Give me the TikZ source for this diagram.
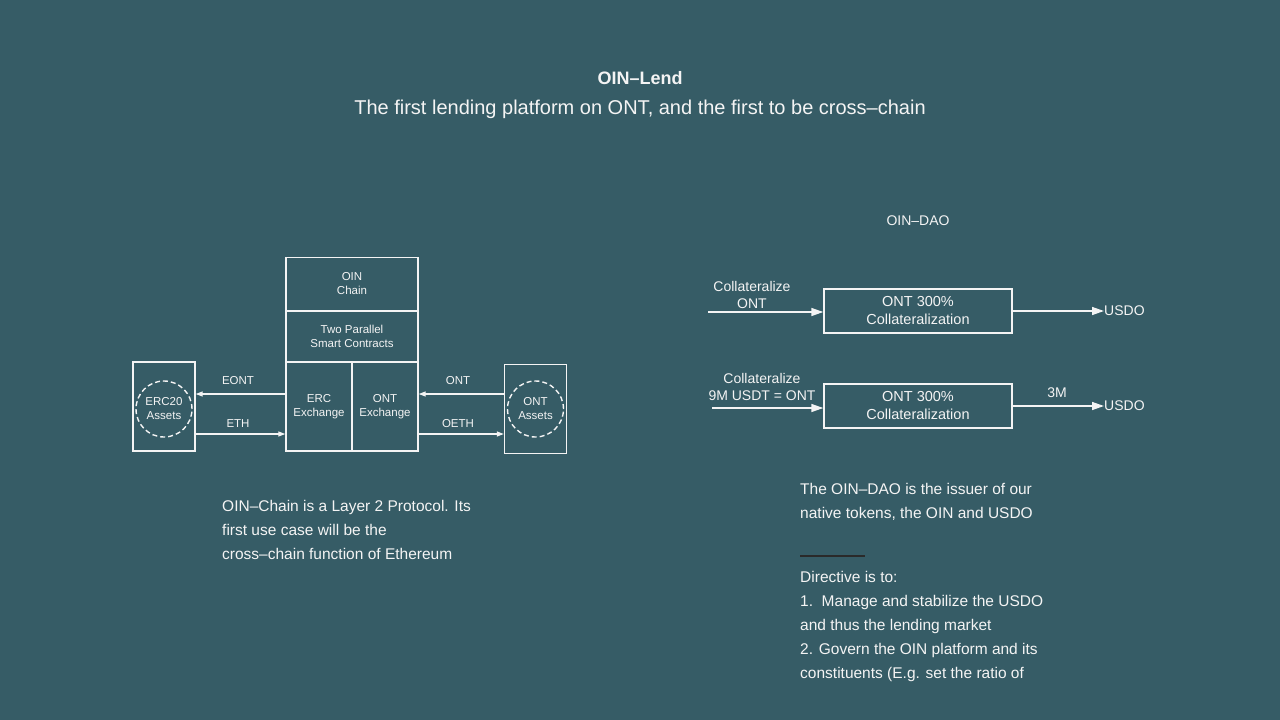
\documentclass[tikz,border=0pt]{standalone}
\usepackage{fontspec}
\setmainfont{Liberation Sans}
\usetikzlibrary{arrows.meta}
\definecolor{oinbg}{HTML}{365C66}
\definecolor{oinfg}{HTML}{F4F4F4}
\definecolor{oinrule}{HTML}{2A2A2A}
\newcommand{\fsz}[2]{\fontsize{#1}{#2}\selectfont}
\tikzset{
  cell/.style={draw, line width=1.4pt, inner sep=0pt, align=center, font=\fsz{11.5}{14}},
  ring/.style={circle, draw, line width=1.4pt, dash pattern=on 5pt off 3pt, inner sep=0pt,
    minimum size=56pt, align=center, font=\fsz{11.5}{14}},
  flow/.style={line width=1.2pt, -{Triangle[length=7pt,width=5pt]}},
  bigflow/.style={line width=1.4pt, -{Triangle[length=12pt,width=8pt]}},
  tag/.style={inner sep=0pt, align=center, font=\fsz{11.5}{14}},
  note/.style={inner sep=0pt, align=left, anchor=north west, font=\fsz{15.5}{24}},
}
\begin{document}
\begin{tikzpicture}[x=1pt, y=-1pt, color=oinfg]
\fill[oinbg] (0,0) rectangle (1280,720);
\useasboundingbox (0,0) rectangle (1280,720);
% heading
\node[font=\bfseries\fsz{18}{22}] (title) at (640,78) {OIN–Lend};
\node[font=\fsz{20}{24}] (subtitle) at (640,109) {The first lending platform on ONT, and the first to be cross–chain};
\node[font=\fsz{14}{17}] (dao) at (918,221) {OIN–DAO};
% oin chain
\node[cell, minimum width=132pt, minimum height=53pt] (chain) at (352,284) {OIN\\Chain};
\node[cell, minimum width=132pt, minimum height=51pt] (contracts) at (352,336.5) {Two Parallel\\Smart Contracts};
\node[cell, minimum width=66pt, minimum height=89pt] (ercx) at (319,406.5) {ERC\\Exchange};
\node[cell, minimum width=66pt, minimum height=89pt] (ontx) at (385,406.5) {ONT\\Exchange};
\node[cell, minimum width=62pt, minimum height=89pt] (erc20box) at (164,406.5) {};
\node[ring] (erc20) at (164,409) {ERC20\\Assets};
\node[cell, minimum width=62pt, minimum height=89pt] (ontbox) at (535.5,409) {};
\node[ring] (ontassets) at (535.5,409) {ONT\\Assets};
\draw[flow] ([yshift=12.5pt]ercx.west) -- ([yshift=12.5pt]ercx.west -| erc20box.east);
\draw[flow] ([yshift=-27.5pt]erc20box.east) -- ([yshift=-27.5pt]erc20box.east -| ercx.west);
\draw[flow] ([yshift=12.5pt]ontx.east -| ontbox.west) -- ([yshift=12.5pt]ontx.east);
\draw[flow] ([yshift=-27.5pt]ontx.east) -- ([yshift=-27.5pt]ontx.east -| ontbox.west);
\node[tag] (eont) at (238,381) {EONT};
\node[tag] (eth) at (238,424) {ETH};
\node[tag] (ont) at (458,381) {ONT};
\node[tag] (oeth) at (458,424) {OETH};
\node[note] (chainnote) at (222,500) {OIN–Chain is a Layer 2 Protocol. Its\\first use case will be the\\cross–chain function of Ethereum};
% oin dao
\node[cell, minimum width=188pt, minimum height=44pt, font=\fsz{14.5}{18}] (box1) at (918,311) {ONT 300\%\\Collateralization};
\node[cell, minimum width=188pt, minimum height=44pt, font=\fsz{14.5}{18}] (box2) at (918,406) {ONT 300\%\\Collateralization};
\coordinate (in1) at (708,312);
\coordinate (in2) at (712,408);
\node[tag, font=\fsz{14}{17}] (col1) at (752,294.5) {Collateralize\\ONT};
\node[tag, font=\fsz{14}{17}] (col2) at (762,386.5) {Collateralize\\9M USDT = ONT};
\node[tag, anchor=west, font=\fsz{14}{17}] (usdo1) at (1104,311) {USDO};
\node[tag, anchor=west, font=\fsz{14}{17}] (usdo2) at (1104,406) {USDO};
\node[tag, font=\fsz{14}{17}] (three) at (1057,393) {3M};
\draw[bigflow] (in1) -- (in1 -| box1.west);
\draw[bigflow] (in2) -- (in2 -| box2.west);
\draw[bigflow] (box1.east) -- (usdo1.west);
\draw[bigflow] (box2.east) -- (usdo2.west);
\node[note] (daonote) at (800,483) {The OIN–DAO is the issuer of our\\native tokens, the OIN and USDO};
\draw[oinrule, line width=2pt] (800,556) -- (865,556);
\node[note] (directive) at (800,571) {Directive is to:\\1.\ \ Manage and stabilize the USDO\\and thus the lending market\\2. Govern the OIN platform and its\\constituents (E.g. set the ratio of};
\end{tikzpicture}
\end{document}
